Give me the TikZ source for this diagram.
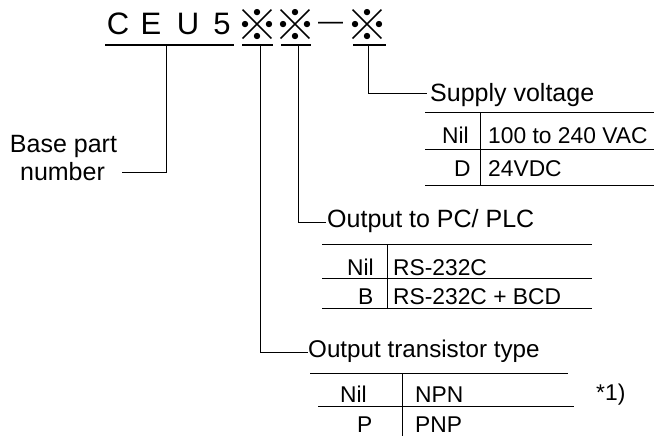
\documentclass[tikz,border=0pt]{standalone}
\usepackage{fontspec}
\setmainfont{Liberation Sans}
\newfontfamily\cjk{Noto Sans CJK JP}
\begin{document}
\begin{tikzpicture}[x=1pt,y=-1pt,
  big/.style={inner sep=0pt,anchor=base,font=\fontsize{31}{31}\selectfont},
  refmark/.style={inner sep=0pt,anchor=center,font=\cjk\bfseries\fontsize{42}{42}\selectfont},
  lbl/.style={inner sep=0pt,anchor=base west,font=\fontsize{25}{26}\selectfont},
  cell/.style={inner sep=0pt,anchor=base west,font=\fontsize{22.8}{23}\selectfont},
  uline/.style={line width=1.3pt},
  tline/.style={line width=1pt},
  conn/.style={line width=1pt}]
\useasboundingbox (0,0) rectangle (656,436);
% part code
\node[big] (c) at (118,35) {C};
\node[big] (e) at (151,35) {E};
\node[big] (u) at (188,35) {U};
\node[big] (five) at (222,35) {5};
\node[refmark] (m1) at (257,25) {※};
\node[refmark] (m2) at (295,25) {※};
\node[big,font=\fontsize{25}{25}\selectfont] (dash) at (330.5,30) {—};
\node[refmark] (m3) at (367.5,25) {※};
% underlines
\draw[uline] (105,45) -- (234,45);
\draw[uline] (242,45) -- (273,45);
\draw[uline] (281,45) -- (311,45);
\draw[uline] (353,45) -- (386,45);
\coordinate (b0) at (166,45);
\coordinate (t0) at (260,45);
\coordinate (p0) at (298,45);
\coordinate (s0) at (368,45);
% base part number
\node[lbl,anchor=base] (base1) at (63.5,152) {Base part};
\node[lbl,anchor=base] (base2) at (62.5,180) {number};
\coordinate (b1) at (122,172);
\draw[conn] (b0) |- (b1);
% supply voltage
\node[lbl] (sv) at (430,102) {Supply voltage};
\coordinate (s1) at (427,93);
\draw[conn] (s0) |- (s1);
\draw[tline] (425,112) -- (654,112);
\draw[tline] (425,149) -- (654,149);
\draw[tline] (425,185) -- (654,185);
\draw[tline] (480,112) -- (480,185);
\node[cell] (svn) at (442,143) {Nil};
\node[cell] (svnv) at (488,143) {100 to 240 VAC};
\node[cell] (svd) at (454,176) {D};
\node[cell] (svdv) at (488,176) {24VDC};
% output to PC/PLC
\node[lbl] (pc) at (327,227) {Output to PC/ PLC};
\coordinate (p1) at (326,222);
\draw[conn] (p0) |- (p1);
\draw[tline] (322,244) -- (592,244);
\draw[tline] (322,278) -- (592,278);
\draw[tline] (322,308) -- (592,308);
\draw[tline] (387,244) -- (387,308);
\node[cell] (pcn) at (347,275) {Nil};
\node[cell] (pcnv) at (393,275) {RS-232C};
\node[cell] (pcb) at (358,304) {B};
\node[cell] (pcbv) at (393,304) {RS-232C + BCD};
% output transistor type
\node[lbl,font=\fontsize{24.2}{25}\selectfont] (tr) at (308,357) {Output transistor type};
\coordinate (t1) at (308,352);
\draw[conn] (t0) |- (t1);
\draw[tline] (310,373) -- (568,373);
\draw[tline] (318,406) -- (574,406);
\draw[tline] (402,373) -- (402,436);
\node[cell] (trn) at (340,402) {Nil};
\node[cell] (trnv) at (415,402) {NPN};
\node[cell] (trp) at (357,432.5) {P};
\node[cell] (trpv) at (415,432.5) {PNP};
\node[cell] (note) at (596,400) {*1)};
\end{tikzpicture}
\end{document}
